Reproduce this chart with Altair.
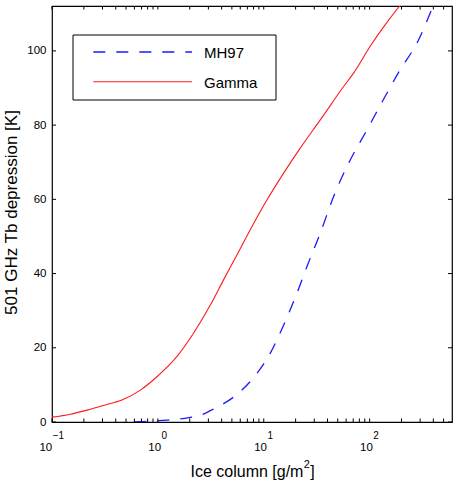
import altair as alt
import pandas as pd

# Brightness-temperature depression at 501 GHz versus ice column
gamma_x = [0.1, 0.149, 0.214, 0.319, 0.458, 0.683, 0.98, 1.51, 2.17, 3.13, 4.17,
           5.58, 7.46, 10.7, 15.2, 22.1, 34.2, 56.8, 70.5, 101, 140, 192]
gamma_y = [1.3, 2.1, 3.2, 4.6, 5.9, 8.6, 12.2, 17.6, 23.9, 31.5, 38.3,
           45.0, 51.8, 59.8, 66.8, 73.8, 81.4, 90.4, 94.0, 101.2, 107.0, 112.1]
mh97_x = [0.6, 0.707, 1.22, 1.97, 2.5, 3.2, 3.88, 6.0, 8.63, 11.5, 15.4, 20.6,
          25.6, 34.2, 45.6, 65.6, 94.3, 140, 194, 280, 396]
mh97_y = [0.0, 0.1, 0.5, 1.2, 1.8, 3.2, 4.4, 8.2, 13.1, 18.5, 26.1, 34.7,
          41.9, 50.9, 60.7, 70.6, 78.7, 87.7, 94.9, 102.1, 112.0]

series_names = ["MH97", "Gamma"]
series_colors = ["#1a1aff", "#ff1a1a"]

y_ticks = [0, 20, 40, 60, 80, 100]
x_major = [0.1, 1, 10, 100]
x_exponents = ["\u22121", "0", "1", "2"]
x_minor = [0.2, 0.3, 0.4, 0.5, 0.6, 0.7, 0.8, 0.9,
           2, 3, 4, 5, 6, 7, 8, 9,
           20, 30, 40, 50, 60, 70, 80, 90,
           200, 300, 400, 500]
x_title_parts = ["Ice column [g/m", "2", "]"]

W, H = 400, 416
FONT = "Liberation Sans"

xscale = alt.Scale(type="log", domain=[0.1, 600], nice=False)
yscale = alt.Scale(domain=[0, 112.1], nice=False, zero=False)

x_axis = alt.Axis(labels=False, ticks=False, domain=False, grid=False, title=None)
y_axis = alt.Axis(values=y_ticks, ticks=False, domain=False, grid=False,
                  labelPadding=6, labelFont=FONT, labelFontSize=11.5,
                  labelColor="black", labelFlush=False, labelOverlap=False,
                  title="501 GHz Tb depression [K]", titleFont=FONT,
                  titleFontSize=17, titleFontWeight="normal", titleColor="black",
                  titleX=-41, titleY=206, titleBaseline="middle")

X = alt.X("x:Q", scale=xscale, axis=x_axis)
Y = alt.Y("y:Q", scale=yscale, axis=y_axis)

gamma_df = pd.DataFrame({"x": gamma_x, "y": gamma_y})
mh97_df = pd.DataFrame({"x": mh97_x, "y": mh97_y})

gamma_line = alt.Chart(gamma_df).mark_line(
    color=series_colors[1], strokeWidth=1.1, clip=True, interpolate="monotone"
).encode(x=X, y=Y)

mh97_line = alt.Chart(mh97_df).mark_line(
    color=series_colors[0], strokeWidth=1.3, strokeDash=[12, 11], clip=True,
    interpolate="monotone"
).encode(x=X, y=Y)

# Inward tick marks on all four sides of the box
xt = pd.DataFrame({"x": x_major + x_minor})
yt = pd.DataFrame({"y": y_ticks})
x_bottom = alt.Chart(xt).mark_rule(color="black", strokeWidth=1).encode(
    x=X, y=alt.value(H - 3.5), y2=alt.value(H))
x_top = alt.Chart(xt).mark_rule(color="black", strokeWidth=1).encode(
    x=X, y=alt.value(0), y2=alt.value(3.5))
y_left = alt.Chart(yt).mark_rule(color="black", strokeWidth=1).encode(
    y=Y, x=alt.value(0), x2=alt.value(4))
y_right = alt.Chart(yt).mark_rule(color="black", strokeWidth=1).encode(
    y=Y, x=alt.value(W - 4), x2=alt.value(W))

# Power-of-ten tick labels: base "10" plus raised exponent
lab = pd.DataFrame({"x": x_major, "exp": x_exponents,
                    "wide": [len(e) > 1 for e in x_exponents]})
label_layers = []
for wide, shift in [(True, 0.2), (False, 3.2)]:
    sub = alt.Chart(lab).transform_filter(
        alt.datum.wide if wide else ~alt.datum.wide)
    label_layers.append(sub.mark_text(
        align="right", baseline="alphabetic", font=FONT, fontSize=11.5,
        color="black", dx=shift
    ).encode(x=X, y=alt.value(444.5), text=alt.value("10")))
    label_layers.append(sub.mark_text(
        align="left", baseline="alphabetic", font=FONT, fontSize=10,
        color="black", dx=shift + 0.5
    ).encode(x=X, y=alt.value(432.5), text="exp:N"))

# x-axis title with a raised exponent
one = pd.DataFrame({"k": [0]})
title_main = alt.Chart(one).mark_text(
    align="left", baseline="alphabetic", font=FONT, fontSize=16, color="black"
).encode(x=alt.value(138.5), y=alt.value(470.5), text=alt.value(x_title_parts[0]))
title_sup = alt.Chart(one).mark_text(
    align="left", baseline="alphabetic", font=FONT, fontSize=11, color="black"
).encode(x=alt.value(251.8), y=alt.value(462), text=alt.value(x_title_parts[1]))
title_end = alt.Chart(one).mark_text(
    align="left", baseline="alphabetic", font=FONT, fontSize=16, color="black"
).encode(x=alt.value(258.3), y=alt.value(470.5), text=alt.value(x_title_parts[2]))

# Legend box
leg_box = alt.Chart(one).mark_rect(fill="white", stroke="black", strokeWidth=1).encode(
    x=alt.value(21), x2=alt.value(224), y=alt.value(29), y2=alt.value(94))
leg_mh97 = alt.Chart(one).mark_rule(
    color=series_colors[0], strokeWidth=1.3, strokeDash=[12, 11]
).encode(x=alt.value(41.3), x2=alt.value(140), y=alt.value(46))
leg_gamma = alt.Chart(one).mark_rule(
    color=series_colors[1], strokeWidth=1.1
).encode(x=alt.value(41.3), x2=alt.value(140), y=alt.value(75.7))
leg_t1 = alt.Chart(one).mark_text(
    align="left", baseline="middle", font=FONT, fontSize=15, color="black"
).encode(x=alt.value(152), y=alt.value(47), text=alt.value(series_names[0]))
leg_t2 = alt.Chart(one).mark_text(
    align="left", baseline="middle", font=FONT, fontSize=15, color="black"
).encode(x=alt.value(152), y=alt.value(76.5), text=alt.value(series_names[1]))

chart = alt.layer(
    gamma_line, mh97_line, x_bottom, x_top, y_left, y_right,
    *label_layers, title_main, title_sup, title_end,
    leg_box, leg_mh97, leg_gamma, leg_t1, leg_t2
).properties(
    width=W, height=H,
    padding={"left": 52, "top": 6, "right": 8, "bottom": 68},
    autosize=alt.AutoSizeParams(type="none"),
    background="white",
).configure_view(
    stroke="black", strokeWidth=1.2
)

chart.save("out.html", embed_options={"renderer": "svg", "actions": False})
